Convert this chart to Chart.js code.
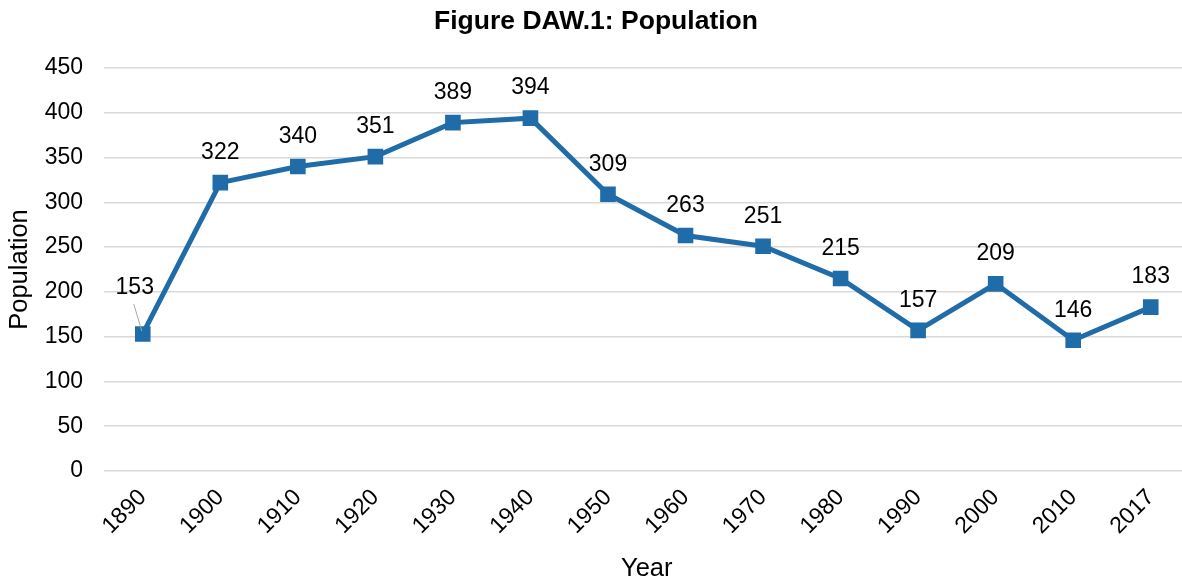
<!doctype html>
<html lang="en">
    <head>
        <meta charset="UTF-8" />
        <title>Figure DAW.1: Population</title>
        <script src="https://cdn.jsdelivr.net/npm/chart.js"></script>
        <style>
            html, body {
                margin: 0;
                padding: 0;
                overflow: hidden;
                background: #fff;
            }
            #chart-container {
                width: 1202px;
                height: 579px;
            }
        </style>
    </head>
    <body>
        <div id="chart-container">
            <canvas id="popChart"></canvas>
        </div>

        <script>
            const years = ["1890", "1900", "1910", "1920", "1930", "1940", "1950",
                "1960", "1970", "1980", "1990", "2000", "2010", "2017"];
            const population = [153, 322, 340, 351, 389, 394, 309, 263, 251, 215, 157, 209, 146, 183];
            const yTicks = [0, 50, 100, 150, 200, 250, 300, 350, 400, 450];

            const FONT = "'Liberation Sans', Arial, sans-serif";
            const BLUE = "#1f6ca8";

            // value labels above each point (153 is nudged left with a leader line)
            const pointLabels = {
                id: "pointLabels",
                afterLayout(chart) {
                    // canvas is a bit wider than the window, keep the title centred on what shows
                    chart.titleBlock.left = 0;
                    chart.titleBlock.right = 1192;
                },
                afterDatasetsDraw(chart) {
                    const ctx = chart.ctx;
                    const meta = chart.getDatasetMeta(0);
                    ctx.save();
                    ctx.font = "23px " + FONT;
                    ctx.fillStyle = "#000";
                    ctx.textAlign = "center";
                    ctx.textBaseline = "middle";
                    meta.data.forEach((pt, i) => {
                        let x = pt.x;
                        let y = pt.y - 30;
                        if (i === 0) {
                            x = pt.x - 8;
                            y = pt.y - 46;
                            ctx.strokeStyle = "#a6a6a6";
                            ctx.lineWidth = 1;
                            ctx.beginPath();
                            ctx.moveTo(x - 1, y + 16);
                            ctx.lineTo(pt.x - 1, pt.y - 3);
                            ctx.stroke();
                        }
                        ctx.fillText(population[i], x, y);
                    });
                    ctx.restore();
                },
            };

            const ctx = document.getElementById("popChart").getContext("2d");
            new Chart(ctx, {
                type: "line",
                data: {
                    labels: years,
                    datasets: [
                        {
                            label: "Population",
                            data: population,
                            borderColor: BLUE,
                            backgroundColor: BLUE,
                            borderWidth: 5,
                            pointStyle: "rect",
                            pointRadius: 7.5,
                            pointHoverRadius: 7.5,
                            tension: 0,
                        },
                    ],
                },
                options: {
                    responsive: true,
                    maintainAspectRatio: false,
                    animation: false,
                    layout: { padding: 0 },
                    plugins: {
                        legend: { display: false },
                        tooltip: { enabled: false },
                        title: {
                            display: true,
                            text: "Figure DAW.1: Population",
                            color: "#000",
                            font: { family: FONT, size: 26.5, weight: "bold" },
                            padding: { top: 6, bottom: 30.2 },
                        },
                    },
                    scales: {
                        x: {
                            offset: true,
                            grid: { display: false },
                            border: { display: false },
                            ticks: {
                                color: "#000",
                                font: { family: FONT, size: 23 },
                                minRotation: 45,
                                maxRotation: 45,
                                padding: 5,
                            },
                            title: {
                                display: true,
                                text: "Year",
                                color: "#000",
                                font: { family: FONT, size: 25.5 },
                                padding: { top: 0, bottom: -5 },
                            },
                            afterFit(scale) {
                                scale.height = 108;
                            },
                        },
                        y: {
                            min: 0,
                            max: 450,
                            afterBuildTicks(scale) {
                                scale.ticks = yTicks.map((v) => ({ value: v }));
                            },
                            grid: {
                                color: "#d9d9d9",
                                lineWidth: 1.5,
                                drawTicks: false,
                            },
                            border: { display: false },
                            ticks: {
                                color: "#000",
                                font: { family: FONT, size: 23 },
                                padding: 21,
                            },
                            title: {
                                display: true,
                                text: "Population",
                                color: "#000",
                                font: { family: FONT, size: 25.5 },
                                padding: { top: 5, bottom: 0 },
                            },
                            afterFit(scale) {
                                scale.width = 104;
                            },
                        },
                    },
                },
                plugins: [pointLabels],
            });
        </script>
    </body>
</html>
